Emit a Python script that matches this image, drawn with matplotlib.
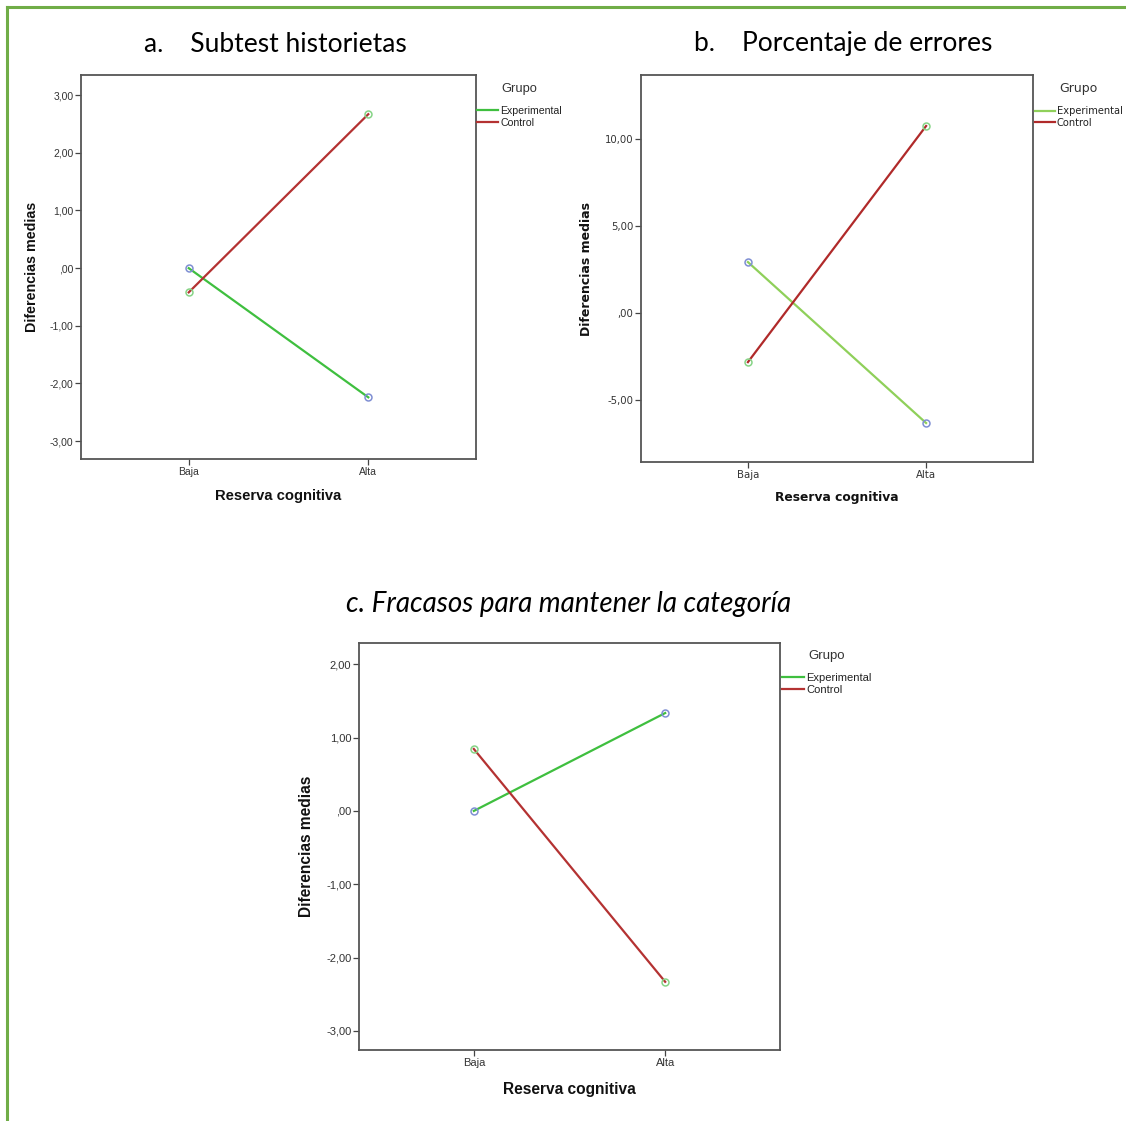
"""Three SPSS-style interaction plots: mean differences by cognitive reserve and group."""

import matplotlib
matplotlib.use("Agg")
import matplotlib.pyplot as plt
from matplotlib.lines import Line2D

W, H = 1126, 1121

CATEGORIES = ["Baja", "Alta"]
GROUPS = ["Experimental", "Control"]

# panel a: Subtest historietas
A_EXPERIMENTAL = [0.0, -2.24]
A_CONTROL = [-0.42, 2.67]
A_TICKS = [3, 2, 1, 0, -1, -2, -3]
A_TICKLABELS = ["3,00", "2,00", "1,00", ",00", "-1,00", "-2,00", "-3,00"]

# panel b: Porcentaje de errores
B_EXPERIMENTAL = [2.93, -6.32]
B_CONTROL = [-2.82, 10.75]
B_TICKS = [10, 5, 0, -5]
B_TICKLABELS = ["10,00", "5,00", ",00", "-5,00"]

# panel c: Fracasos para mantener la categoría
C_EXPERIMENTAL = [0.0, 1.335]
C_CONTROL = [0.845, -2.33]
C_TICKS = [2, 1, 0, -1, -2, -3]
C_TICKLABELS = ["2,00", "1,00", ",00", "-1,00", "-2,00", "-3,00"]

MARKER_EXP = "#7f8fd3"
MARKER_CTL = "#86d486"


def px_rect(left, top, right, bottom):
    return [left / W, (H - bottom) / H, (right - left) / W, (bottom - top) / H]


def draw_panel(fig, rect, exp, ctl, ticks, ticklabels, ylim, green, red,
               font, tick_size, label_size, xlabel_size, leg_size, leg_title_size,
               legend_anchor, ylab_x, xlab_y):
    ax = fig.add_axes(rect)
    x = [0, 1]
    ax.plot(x, exp, color=green, lw=1.6, zorder=2)
    ax.plot(x, ctl, color=red, lw=1.6, zorder=2)
    ax.plot(x, exp, "o", ms=5, mfc="none", mec=MARKER_EXP, mew=1.1, zorder=3)
    ax.plot(x, ctl, "o", ms=5, mfc="none", mec=MARKER_CTL, mew=1.1, zorder=3)

    ax.set_xlim(-0.6, 1.6)
    ax.set_ylim(*ylim)
    ax.set_xticks(x)
    ax.set_xticklabels(CATEGORIES, fontsize=tick_size, family=font, color="#333333")
    ax.set_yticks(ticks)
    ax.set_yticklabels(ticklabels, fontsize=tick_size, family=font, color="#333333")
    ax.tick_params(length=4, width=0.9, color="#444444", pad=1.5)
    for s in ax.spines.values():
        s.set_color("#555555")
        s.set_linewidth(1.3)

    ax.set_ylabel("Diferencias medias", fontsize=label_size, fontweight="bold",
                  family=font, va="center", color="#111111")
    ax.yaxis.set_label_coords(ylab_x, 0.5)
    ax.set_xlabel("Reserva cognitiva", fontsize=xlabel_size, fontweight="bold",
                  family=font, va="center", color="#111111")
    ax.xaxis.set_label_coords(0.5, xlab_y)

    handles = [Line2D([0], [0], color=green, lw=1.6),
               Line2D([0], [0], color=red, lw=1.6)]
    leg = ax.legend(handles, GROUPS, title="Grupo", loc="upper left",
                    bbox_to_anchor=legend_anchor, bbox_transform=fig.transFigure,
                    frameon=False, fontsize=leg_size, title_fontsize=leg_title_size,
                    handlelength=2.0, handletextpad=0.2, borderpad=0,
                    borderaxespad=0, labelspacing=0.15)
    for t in leg.get_texts():
        t.set_family(font)
        t.set_color("#222222")
    leg.get_title().set_family(font)
    leg.get_title().set_color("#333333")
    leg._legend_box.sep = 8
    return ax


def main():
    fig = plt.figure(figsize=(W / 100, H / 100), dpi=100)

    # green frame around the figure
    fig.add_artist(Line2D([7 / W, 1.0], [1 - 7 / H, 1 - 7 / H], color="#70ad47", lw=2.2,
                          transform=fig.transFigure))
    fig.add_artist(Line2D([7 / W, 7 / W], [0.0, 1 - 7 / H], color="#70ad47", lw=2.2,
                          transform=fig.transFigure))

    green_ac = "#3fbf3f"
    red_ac = "#b43232"
    draw_panel(fig, px_rect(81, 75, 476, 459), A_EXPERIMENTAL, A_CONTROL,
               A_TICKS, A_TICKLABELS, (-3.31, 3.35), green_ac, red_ac,
               "Liberation Sans", 7.5, 10.3, 10.6, 7.6, 9.3,
               (477 / W, 1 - 83 / H), -0.124, -0.096)
    draw_panel(fig, px_rect(641, 75, 1033, 462), B_EXPERIMENTAL, B_CONTROL,
               B_TICKS, B_TICKLABELS, (-8.56, 13.68), "#8fd05a", "#b02a2a",
               "DejaVu Sans", 7.3, 9.0, 8.8, 7.1, 9.0,
               (1035 / W, 1 - 82 / H), -0.138, -0.093)
    draw_panel(fig, px_rect(359, 643, 780, 1050), C_EXPERIMENTAL, C_CONTROL,
               C_TICKS, C_TICKLABELS, (-3.26, 2.29), green_ac, red_ac,
               "Liberation Sans", 8.0, 11.2, 11.2, 8.0, 9.5,
               (782 / W, 1 - 650 / H), -0.124, -0.096)

    fig.text(275 / W, 1 - 44 / H, "a.    Subtest historietas", ha="center", va="center",
             fontsize=19, family="Lato")
    fig.text(843 / W, 1 - 43 / H, "b.    Porcentaje de errores", ha="center", va="center",
             fontsize=19, family="Lato")
    fig.text(569 / W, 1 - 604 / H, "c. Fracasos para mantener la categoría", ha="center",
             va="center", fontsize=20, family="Lato", style="italic")

    fig.savefig("out.png", dpi=100)
    plt.close(fig)


if __name__ == "__main__":
    main()
